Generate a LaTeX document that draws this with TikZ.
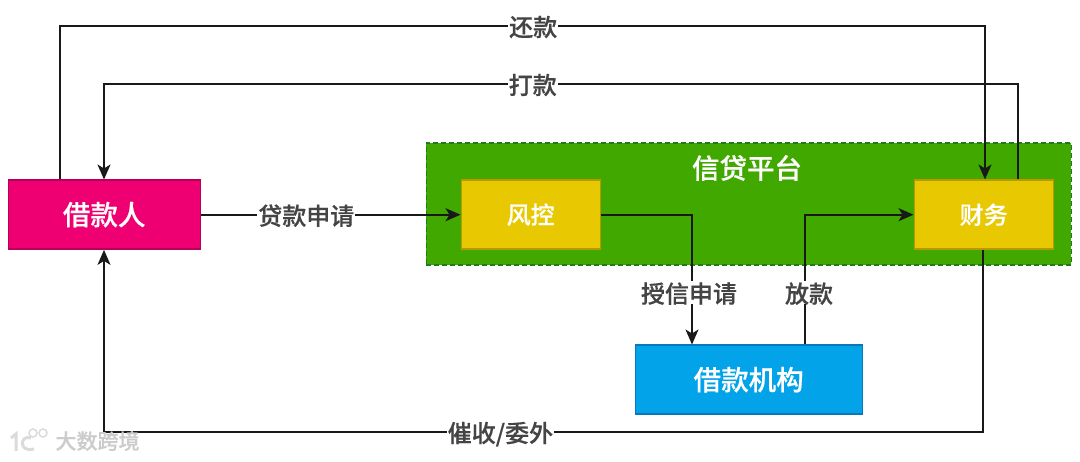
\documentclass[tikz,border=0pt]{standalone}
\usepackage{fontspec}
\usetikzlibrary{arrows.meta,calc}
\setmainfont{Noto Sans CJK SC}[BoldFont={Noto Sans CJK SC Medium},BoldFeatures={FakeBold=0.5}]
\definecolor{pink}{HTML}{EE0073}
\definecolor{pinkb}{HTML}{B8005A}
\definecolor{gold}{HTML}{E8C800}
\definecolor{goldb}{HTML}{B79A00}
\definecolor{grn}{HTML}{41A800}
\definecolor{grnb}{HTML}{1F7A20}
\definecolor{sky}{HTML}{02A3E8}
\definecolor{skyb}{HTML}{0A78B8}
\definecolor{txt}{HTML}{444444}
\tikzset{
  x=1pt,y=-1pt,
  box/.style={draw=#1,line width=1.4pt,inner sep=0pt,anchor=north west,text=white},
  link/.style={draw=black!90,line width=1.7pt,-{Stealth[length=15pt,width=13pt,inset=4pt]}},
  lab/.style={fill=white,text=txt,font=\fontsize{24}{26}\selectfont\bfseries,inner sep=1pt,text depth=0pt},
  big/.style={font=\fontsize{27.5}{30}\selectfont\bfseries},
  mid/.style={font=\fontsize{24}{26}\selectfont\bfseries},
}
\begin{document}
\begin{tikzpicture}
\useasboundingbox[fill=white] (0,0) rectangle (1080,462);
\fill[blue!70!cyan] (1073,0) arc[start angle=180,end angle=270,radius=7] -- (1080,0) -- cycle;
\node[box=grnb,dash pattern=on 5pt off 3pt,fill=grn,minimum width=645pt,minimum height=122pt] (pf) at (425.5,142.5) {};
\node[text=white,big] (pft) at (747,168) {信贷平台};
\node[box=pinkb,fill=pink,minimum width=192pt,minimum height=69pt,big] (bor) at (7.5,179.5) {借款人};
\node[box=goldb,fill=gold,minimum width=139pt,minimum height=69pt,mid] (risk) at (460.5,179.5) {风控};
\node[box=goldb,fill=gold,minimum width=139pt,minimum height=69pt,mid] (fin) at (913.5,179.5) {财务};
\node[box=skyb,fill=sky,minimum width=227pt,minimum height=69pt,big] (org) at (634.5,344.5) {借款机构};
\coordinate (xa) at (60,0);
\coordinate (xb) at (104,0);
\coordinate (xc) at (985,0);
\coordinate (xd) at (1018,0);
\coordinate (xe) at (983,0);
\coordinate (xf) at (692,0);
\coordinate (xg) at (805,0);
\draw[link] (bor.north -| xa) -- (xa |- 0,26) -- node[lab,pos=.5115] (l1) {还款} (xc |- 0,26) -- (fin.north -| xc);
\draw[link] (fin.north -| xd) -- (xd |- 0,84) -- node[lab,pos=.531] (l2) {打款} (xb |- 0,84) -- (bor.north -| xb);
\draw[link] (bor.east) -- node[lab,pos=.406] (l3) {贷款申请} (risk.west);
\draw[link] (risk.east) -- (xf |- risk.east) -- node[lab,pos=.60,xshift=-3pt] (l4) {授信申请} (org.north -| xf);
\draw[link] (org.north -| xg) -- node[lab,pos=.40,xshift=4pt] (l5) {放款} (xg |- fin.west) -- (fin.west);
\draw[link] (fin.south -| xe) -- (xe |- 0,432) -- node[lab,pos=.549] (l6) {催收/委外} (xb |- 0,432) -- (bor.south -| xb);
\node[text=black!20,font=\fontsize{21}{22}\selectfont\bfseries,anchor=west] (wm) at (52,441) {大数跨境};
\draw[black!14,line width=3pt] (11,438) -- (16,434) -- (16,451);
\draw[black!14,line width=3pt] (31,438) .. controls (20,434) and (18,453) .. (34,449);
\draw[black!14,line width=1.5pt] (33,433) circle[radius=4] (43,433) circle[radius=4];
\end{tikzpicture}
\end{document}
